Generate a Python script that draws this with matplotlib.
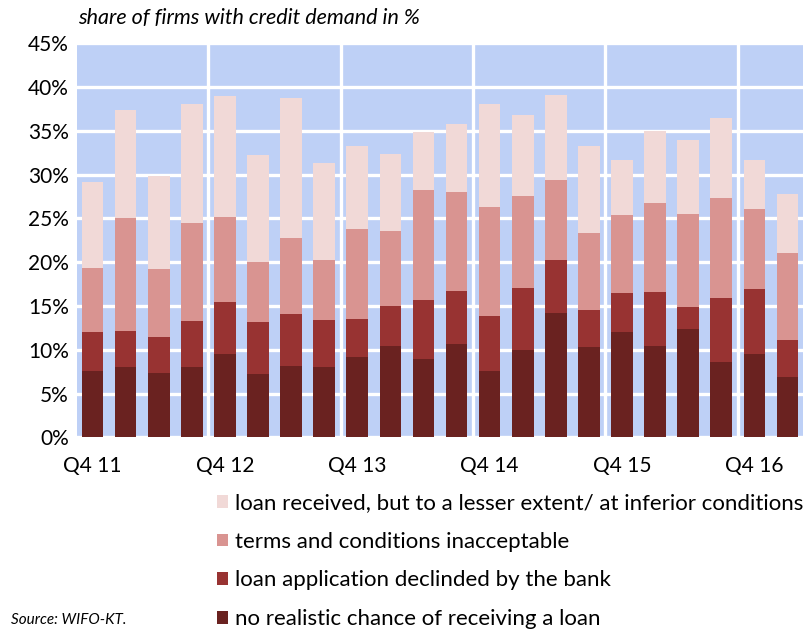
import numpy as np
import matplotlib
matplotlib.use("Agg")
import matplotlib.pyplot as plt

plt.rcParams['font.family'] = ['Lato', 'DejaVu Sans']

quarters = ['Q4 11', 'Q1 12', 'Q2 12', 'Q3 12', 'Q4 12', 'Q1 13', 'Q2 13', 'Q3 13',
            'Q4 13', 'Q1 14', 'Q2 14', 'Q3 14', 'Q4 14', 'Q1 15', 'Q2 15', 'Q3 15',
            'Q4 15', 'Q1 16', 'Q2 16', 'Q3 16', 'Q4 16', 'Q1 17']

# shares in % (stacked from bottom)
no_chance = [7.6, 8.0, 7.3, 8.0, 9.5, 7.2, 8.2, 8.0, 9.2, 10.4, 8.9, 10.7,
             7.6, 10.0, 14.2, 10.3, 12.0, 10.4, 12.4, 8.6, 9.5, 6.9]
declined = [4.4, 4.2, 4.2, 5.3, 6.0, 6.0, 5.9, 5.4, 4.3, 4.6, 6.8, 6.0,
            6.3, 7.0, 6.0, 4.2, 4.5, 6.2, 2.5, 7.3, 7.4, 4.2]
terms = [7.3, 12.8, 7.7, 11.2, 9.7, 6.8, 8.6, 6.8, 10.3, 8.5, 12.5, 11.3,
         12.4, 10.5, 9.2, 8.8, 8.9, 10.2, 10.6, 11.4, 9.2, 9.9]
lesser = [9.8, 12.4, 10.6, 13.6, 13.7, 12.2, 16.0, 11.1, 9.4, 8.8, 6.6, 7.8,
          11.7, 9.3, 9.7, 9.9, 6.3, 8.2, 8.4, 9.2, 5.6, 6.8]

labels = ['no realistic chance of receiving a loan',
          'loan application declinded by the bank',
          'terms and conditions inacceptable',
          'loan received, but to a lesser extent/ at inferior conditions']
colors = ['#6a2220', '#983332', '#d99491', '#f1d9d7']

fig = plt.figure(figsize=(8.09, 6.29), dpi=100)
ax = fig.add_axes([0.0952, 0.3045, 0.8974, 0.6271])
ax.set_facecolor('#bed0f6')

x = np.arange(len(quarters))
bottom = np.zeros(len(quarters))
bars = []
for vals, lab, col in zip([no_chance, declined, terms, lesser], labels, colors):
    b = ax.bar(x, vals, 0.655, bottom=bottom, color=col, label=lab, zorder=3)
    bars.append(b)
    bottom += np.array(vals)

ax.set_xlim(-0.47, 21.47)
ax.set_ylim(0, 45)
ax.set_yticks(np.arange(0, 46, 5))
ax.set_yticklabels([f'{v}%' for v in range(0, 46, 5)], fontsize=15)
ax.set_xticks(x[::4])
ax.set_xticklabels(quarters[::4], fontsize=15)
ax.tick_params(axis='y', length=0, pad=6)
ax.tick_params(axis='x', length=0, pad=13)
ax.yaxis.grid(True, color='white', linewidth=2.4, zorder=1)
for xv in [3.5, 7.5, 11.5, 15.5, 19.5]:
    ax.axvline(xv, color='white', linewidth=2.4, zorder=1)
for s in ax.spines.values():
    s.set_visible(False)
ax.set_axisbelow(True)

fig.text(0.097, 0.955, 'share of firms with credit demand in %', fontsize=15.5,
         fontstyle='italic', ha='left', va='bottom')

handles = bars[::-1]
leg = fig.legend(handles, labels[::-1], loc='upper left',
                 bbox_to_anchor=(0.268, 0.216), frameon=False, fontsize=16,
                 handlelength=0.5, handleheight=0.5, handletextpad=0.3,
                 labelspacing=0.84, borderpad=0, borderaxespad=0)

fig.text(0.013, 0.003, 'Source: WIFO-KT.', fontsize=11, fontstyle='italic',
         ha='left', va='bottom')

fig.savefig('out.png', dpi=100)
